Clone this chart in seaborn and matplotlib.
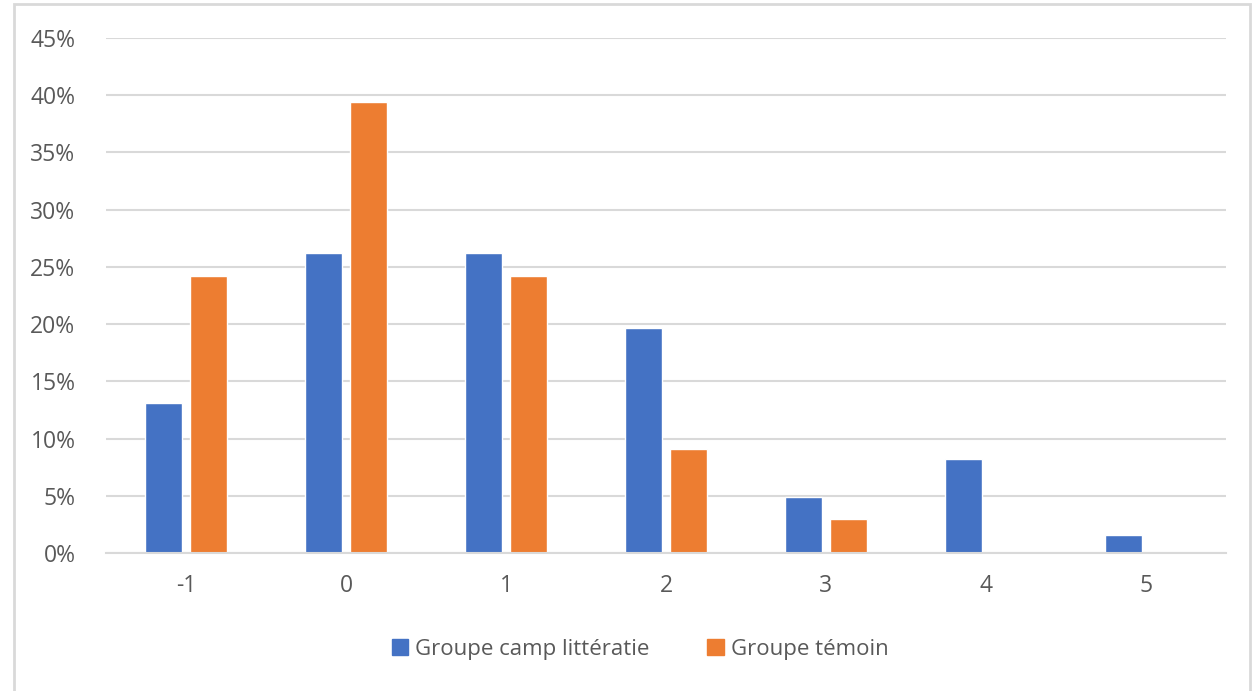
import pandas as pd
import matplotlib.pyplot as plt
import matplotlib.patches as mpatches
from matplotlib.ticker import PercentFormatter
import seaborn as sns

# Données
categories = ['-1', '0', '1', '2', '3', '4', '5']
groupe_camp = [13.1, 26.2, 26.2, 19.7, 4.9, 8.2, 1.6]
groupe_temoin = [24.2, 39.4, 24.2, 9.1, 3.0, 0.0, 0.0]
series = ['Groupe camp littératie', 'Groupe témoin']
couleurs = ['#4472C4', '#ED7D31']

df = pd.DataFrame({
    'cat': categories * 2,
    'val': groupe_camp + groupe_temoin,
    'groupe': [series[0]] * len(categories) + [series[1]] * len(categories),
})

sns.set_style('white')
plt.rcParams['font.family'] = ['Open Sans', 'DejaVu Sans']

fig = plt.figure(figsize=(12.55, 6.91), dpi=100)
ax = fig.add_axes([106 / 1255, 1 - 553 / 691, 1120 / 1255, 515 / 691])

sns.barplot(data=df, x='cat', y='val', hue='groupe', palette=couleurs,
            width=0.56, gap=0.175, ax=ax, legend=False, saturation=1)

ax.set_ylim(0, 45)
ax.set_xlim(-0.5, 6.5)
ax.set_yticks(range(0, 46, 5))
ax.yaxis.set_major_formatter(PercentFormatter(decimals=0))
ax.grid(axis='y', color='#d9d9d9', linewidth=1.5)
ax.set_axisbelow(True)
for s in ['top', 'right', 'left']:
    ax.spines[s].set_visible(False)
ax.spines['bottom'].set_color('#d9d9d9')
ax.spines['bottom'].set_linewidth(1.5)
ax.tick_params(axis='both', length=0, labelsize=16.5, labelcolor='#595959')
ax.tick_params(axis='y', pad=22)
ax.tick_params(axis='x', pad=15)
ax.set_xlabel('')
ax.set_ylabel('')

handles = [mpatches.Patch(color=c, label=l) for c, l in zip(couleurs, series)]
fig.legend(handles=handles, loc='center', bbox_to_anchor=(0.51, 1 - 649 / 691),
           ncol=2, frameon=False, fontsize=16, labelcolor='#595959',
           handlelength=0.75, handleheight=0.75, handletextpad=0.3, columnspacing=2.6)

# cadre du graphique
fig.patches.append(mpatches.Rectangle((14 / 1255, -0.05), 1236 / 1255, 1.05 - 4 / 691,
                                      transform=fig.transFigure, fill=False,
                                      edgecolor='#d9d9d9', linewidth=2))

fig.savefig('out.png', dpi=100)
